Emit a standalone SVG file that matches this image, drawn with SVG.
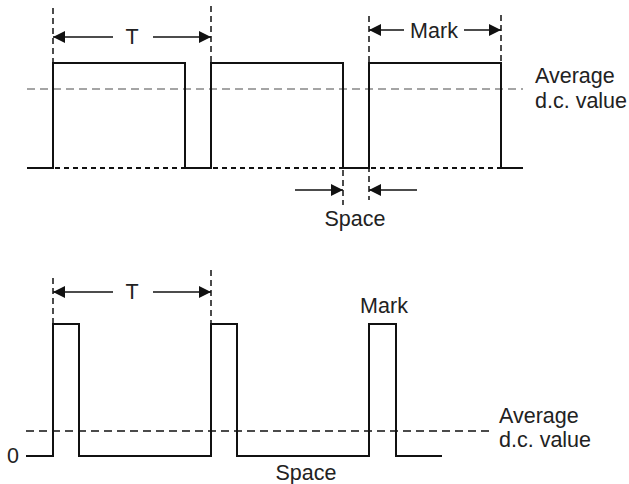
<svg xmlns="http://www.w3.org/2000/svg" width="629" height="484" viewBox="0 0 629 484">
<style>
.wave{fill:none;stroke:#111;stroke-width:2;stroke-linejoin:miter}
.avg1{fill:none;stroke:#888;stroke-width:1.3;stroke-dasharray:8 5}
.avg2{fill:none;stroke:#111;stroke-width:1.5;stroke-dasharray:8 5}
.base{fill:none;stroke:#111;stroke-width:2;stroke-dasharray:5 4}
.vd{fill:none;stroke:#111;stroke-width:1.5;stroke-dasharray:6 4}
.arr{fill:none;stroke:#111;stroke-width:1.5}
text{font-family:"Liberation Sans",Arial,sans-serif;font-size:21.5px;fill:#222}
</style>
<defs>
<marker id="ah" viewBox="0 0 12 12" refX="12" refY="6" markerWidth="12" markerHeight="12" markerUnits="userSpaceOnUse" orient="auto">
<path d="M0,0 L12,6 L0,12 Z" fill="#111"/>
</marker>
</defs>
<g id="top-waveform">
<line class="avg1" x1="27" y1="89" x2="523" y2="89"/>
<path class="wave" d="M27,168 H53 V63 H185 V168 H211 V63 H343 V168 H369 V63 H501 V168 H523"/>
<line class="base" x1="55" y1="168" x2="184" y2="168"/>
<line class="base" x1="213" y1="168" x2="342" y2="168"/>
<line class="base" x1="371" y1="168" x2="500" y2="168"/>
</g>
<g id="top-guides">
<line class="vd" x1="53" y1="8" x2="53" y2="63"/>
<line class="vd" x1="211" y1="6" x2="211" y2="63"/>
<line class="vd" x1="369" y1="16" x2="369" y2="200"/>
<line class="vd" x1="501" y1="15" x2="501" y2="63"/>
<line class="vd" x1="343" y1="170" x2="343" y2="205"/>
</g>
<g id="connectors">
<line class="arr" x1="113" y1="37" x2="53" y2="37" marker-end="url(#ah)"/>
<line class="arr" x1="153" y1="37" x2="211" y2="37" marker-end="url(#ah)"/>
<line class="arr" x1="404" y1="30" x2="369" y2="30" marker-end="url(#ah)"/>
<line class="arr" x1="464" y1="30" x2="501" y2="30" marker-end="url(#ah)"/>
<line class="arr" x1="295" y1="190" x2="343" y2="190" marker-end="url(#ah)"/>
<line class="arr" x1="417" y1="190" x2="369" y2="190" marker-end="url(#ah)"/>
<line class="arr" x1="113" y1="292" x2="53" y2="292" marker-end="url(#ah)"/>
<line class="arr" x1="153" y1="292" x2="211" y2="292" marker-end="url(#ah)"/>
</g>
<g id="top-labels">
<text x="132" y="44" text-anchor="middle">T</text>
<text x="434" y="38" text-anchor="middle">Mark</text>
<text x="355" y="226" text-anchor="middle">Space</text>
<text x="535" y="83">Average</text>
<text x="535" y="108">d.c. value</text>
</g>
<g id="bottom-waveform">
<line class="avg2" x1="26" y1="431" x2="490" y2="431"/>
<path class="wave" d="M26,456 H53 V324 H79 V456 H211 V324 H237 V456 H369 V324 H396 V456 H442"/>
</g>
<g id="bottom-guides">
<line class="vd" x1="53" y1="278" x2="53" y2="324"/>
<line class="vd" x1="211" y1="270" x2="211" y2="324"/>
</g>
<g id="bottom-labels">
<text x="132" y="299" text-anchor="middle">T</text>
<text x="384" y="313" text-anchor="middle">Mark</text>
<text x="306" y="480" text-anchor="middle">Space</text>
<text x="7" y="463">0</text>
<text x="499" y="423">Average</text>
<text x="499" y="447">d.c. value</text>
</g>
</svg>
